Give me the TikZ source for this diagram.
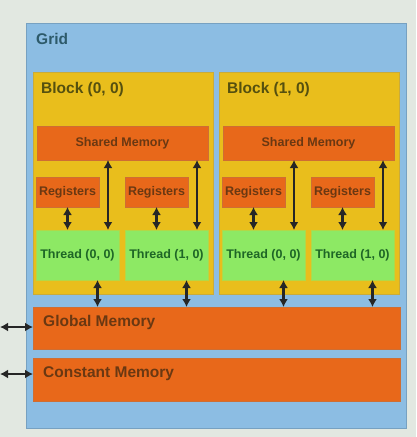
\documentclass[tikz,border=0pt]{standalone}
\usepackage{fontspec}
\setmainfont{Liberation Sans}
\usetikzlibrary{arrows.meta}

\definecolor{bgcol}{HTML}{E2E8E1}
\definecolor{gridcol}{HTML}{8CBDE3}
\definecolor{blockcol}{HTML}{E9BE1C}
\definecolor{memcol}{HTML}{E8681A}
\definecolor{thrcol}{HTML}{8DE964}
\definecolor{gridtxt}{HTML}{2D5A6A}
\definecolor{blocktxt}{HTML}{55500F}
\definecolor{memtxt}{HTML}{6A3812}
\definecolor{thrtxt}{HTML}{1E6626}

\tikzset{
  box/.style={draw, line width=0.8pt, inner sep=0pt, outer sep=0pt, anchor=north west},
  gridbox/.style={box, fill=gridcol, draw=gridcol!85!black},
  blockbox/.style={box, fill=blockcol, draw=blockcol!70!gray},
  membox/.style={box, fill=memcol, draw=memcol!75!gray},
  thrbox/.style={box, fill=thrcol, draw=thrcol!60!blockcol},
  lbl/.style={inner sep=0pt, anchor=west},
  big/.style={font=\fontsize{15.5}{15.5}\selectfont\bfseries},
  small/.style={font=\fontsize{12.5}{12.5}\selectfont\bfseries, inner sep=0pt},
  dbl/.style={{Latex[length=8pt,width=9pt]}-{Latex[length=8pt,width=9pt]}, line width=2.6pt, black!85}
}

\begin{document}
\begin{tikzpicture}[x=1pt, y=-1pt]
  \useasboundingbox[fill=bgcol] (0,0) rectangle (416,437);

  % grid
  \node[gridbox, minimum width=380pt, minimum height=405pt] (grid) at (26,23) {};
  \node[lbl, big, text=gridtxt] (gridlbl) at (36,39) {Grid};

  % blocks
  \foreach \bx/\x in {0/33, 1/219} {
    \node[blockbox, minimum width=180pt, minimum height=222pt] (blk\bx) at (\x,72) {};
    \node[lbl, big, text=blocktxt] (blklbl\bx) at (\x+8,89) {Block (\bx, 0)};
    \node[membox, minimum width=171pt, minimum height=34pt] (shm\bx) at (\x+4,126) {};
    \node[small, text=memtxt] (shmlbl\bx) at (shm\bx.center) {Shared Memory};
    \foreach \tx/\dx in {0/3, 1/92} {
      \node[membox, minimum width=63pt, minimum height=30pt] (reg\bx\tx) at (\x+\dx,177) {};
      \node[small, text=memtxt] (reglbl\bx\tx) at (reg\bx\tx.center) {Registers};
      \node[thrbox, minimum width=83pt, minimum height=50pt] (thr\bx\tx) at (\x+\dx,230) {};
      \node[small, text=thrtxt] (thrlbl\bx\tx) at (thr\bx\tx.center) {Thread (\tx, 0)};
    }
  }

  % global and constant memory
  \node[membox, minimum width=367pt, minimum height=42pt] (gmem) at (33,307) {};
  \node[lbl, big, text=memtxt] (gmemlbl) at (43,322) {Global Memory};
  \node[membox, minimum width=367pt, minimum height=43pt] (cmem) at (33,358) {};
  \node[lbl, big, text=memtxt] (cmemlbl) at (43,374) {Constant Memory};

  % arrows
  \foreach \bx in {0, 1} {
    \foreach \tx in {0, 1} {
      \draw[dbl] (reg\bx\tx.south) -- (reg\bx\tx.south |- thr\bx\tx.north);
      \draw[dbl] ([xshift=-11pt]thr\bx\tx.north east |- shm\bx.south) -- ([xshift=-11pt]thr\bx\tx.north east);
      \draw[dbl] ([xshift=20pt]thr\bx\tx.south) -- ([xshift=20pt]thr\bx\tx.south |- gmem.north);
    }
  }
  \coordinate (hostG) at (0,327);
  \coordinate (hostC) at (0,374);
  \draw[dbl] (hostG) -- (hostG -| gmem.west);
  \draw[dbl] (hostC) -- (hostC -| cmem.west);
\end{tikzpicture}
\end{document}
